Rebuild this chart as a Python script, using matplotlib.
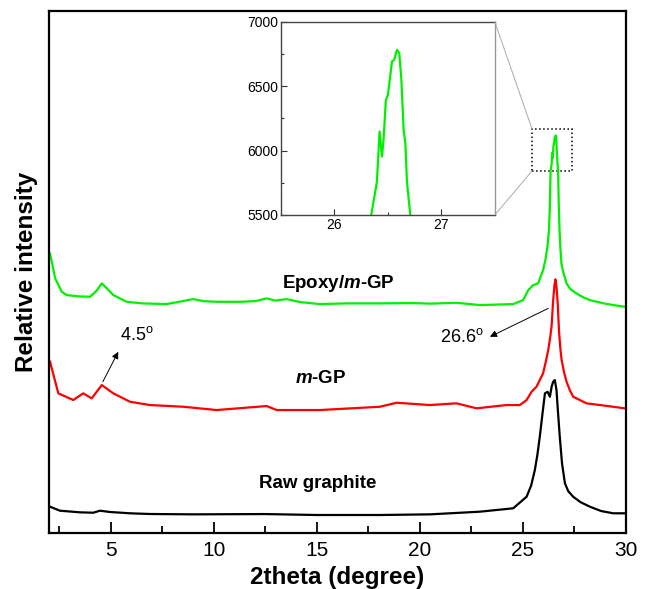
import matplotlib
matplotlib.use("Agg")
import matplotlib.pyplot as plt
from matplotlib.patches import Rectangle, ConnectionPatch
from matplotlib.ticker import MultipleLocator

plt.rcParams["font.family"] = ["Liberation Sans", "DejaVu Sans"]
plt.rcParams["mathtext.fontset"] = "custom"
plt.rcParams["mathtext.rm"] = "Liberation Sans"
plt.rcParams["mathtext.it"] = "Liberation Sans:italic:bold"

# data (2theta, counts); curves are stacked with offsets
green_x = [2.05, 2.3, 2.62, 2.86, 3.5, 3.99, 4.3, 4.56, 4.8, 5.12, 5.77, 6.5, 7.71, 8.5,
           8.99, 9.5, 10.14, 11.27, 12.0, 12.56, 13.0, 13.53, 14.18, 15.15, 16.5, 18.06,
           19.66, 20.5, 21.78, 22.91, 24.53, 25.01, 25.26, 25.5, 25.74, 25.98, 26.10, 26.20,
           26.27, 26.31,
           26.344, 26.397, 26.422, 26.444, 26.459, 26.481, 26.5, 26.538, 26.559, 26.584,
           26.606, 26.625, 26.647, 26.663, 26.678, 26.709, 26.74, 26.78, 26.82, 26.87,
           26.95, 27.05, 27.12, 27.3, 27.6, 27.9, 28.25, 28.8, 29.38, 29.95]
green_y = [2510, 1600, 1119, 1000, 950, 939, 1150, 1424, 1250, 1000, 757, 700, 674, 783,
           855, 780, 757, 757, 780, 880, 800, 855, 747, 674, 700, 699,
           710, 690, 721, 638, 674, 819, 1181, 1362, 1424, 1905, 2300, 2800,
           3400, 4300,
           5500, 5759, 6148, 5954, 6083, 6394, 6433, 6692, 6705, 6782,
           6757, 6562, 6161, 6057, 5759, 5500, 4300, 3300, 2700, 2148,
           1850, 1600, 1424, 1220, 1061, 930, 819, 720, 638, 577]

red_x = [2.05, 2.45, 3.18, 3.66, 4.07, 4.56, 5.12, 5.93, 6.9, 8.52, 10.14, 12.56, 13.05,
         15.15, 18.06, 18.87, 20.49, 21.78, 22.75, 24.21, 24.85, 25.18, 25.42, 25.66, 25.98,
         26.10, 26.23, 26.32, 26.39, 26.47, 26.53, 26.58, 26.63, 26.68, 26.76, 26.82, 26.88,
         27.0, 27.12, 27.28, 27.44, 28.09, 29.38, 29.95]
red_y = [-1415, -2558, -2801, -2558, -2739, -2258, -2558, -2863, -2982, -3044, -3163, -3018,
         -3163, -3163, -3044, -2899, -2982, -2920, -3101, -2982, -2982, -2801, -2501, -2319,
         -1834, -1450, -991, -550, -148, 819, 1350, 1568, 1300, 819, -387, -950, -1353,
         -1800, -2139, -2450, -2681, -2920, -3044, -3101]

black_x = [2.05, 2.53, 3.5, 4.15, 4.47, 4.96, 5.93, 6.9, 9.0, 12.5, 15.0, 18.06, 20.5,
           22.91, 24.53, 25.18, 25.4, 25.58, 25.70, 25.82, 25.95, 26.07, 26.2, 26.31, 26.40,
           26.47, 26.55, 26.63, 26.70, 26.79, 26.90, 27.04, 27.2, 27.44, 27.8, 28.25, 28.8,
           29.38, 29.95]
black_y = [-6664, -6808, -6867, -6881, -6808, -6855, -6902, -6928, -6940, -6930, -6964,
           -6964, -6940, -6844, -6721, -6302, -5900, -5335, -4800, -4130, -3300, -2558,
           -2501, -2682, -2300, -2139, -2077, -2439, -3200, -4130, -5100, -5816, -6100,
           -6302, -6500, -6663, -6820, -6902, -6902]

xticks = [5, 10, 15, 20, 25, 30]
inset_xticks = [26, 27]
inset_yticks = [5500, 6000, 6500, 7000]

fig = plt.figure(figsize=(6.46, 5.89), dpi=100)
ax = fig.add_axes([0.0759, 0.0951, 0.893, 0.886])

ax.plot(black_x, black_y, color="black", lw=1.6)
ax.plot(red_x, red_y, color="#ff0000", lw=1.6)
ax.plot(green_x, green_y, color="#00f000", lw=1.6)

ax.set_xlim(2, 30)
ax.set_ylim(-7615, 11282)
ax.set_xticks(xticks)
ax.xaxis.set_minor_locator(MultipleLocator(2.5))
ax.set_yticks([])
ax.tick_params(axis="x", which="major", direction="in", length=8, width=1.3, labelsize=15, pad=6)
ax.tick_params(axis="x", which="minor", direction="in", length=5, width=1.3)
for s in ax.spines.values():
    s.set_linewidth(1.6)
ax.set_xlabel("2theta (degree)", fontsize=17.5, fontweight="bold", labelpad=4)
ax.set_ylabel("Relative intensity", fontsize=17.5, fontweight="bold", labelpad=8)

ax.text(16.07, 1434, "Epoxy/$m$-GP", fontsize=13.5, fontweight="bold", ha="center", va="center")
ax.text(15.20, -2004, "$m$-GP", fontsize=13.5, fontweight="bold", ha="center", va="center")
ax.text(15.05, -5805, "Raw graphite", fontsize=13.5, fontweight="bold", ha="center", va="center")

ax.annotate("", xy=(5.36, -1053), xytext=(4.61, -2139),
            arrowprops=dict(arrowstyle="-|>", color="black", lw=0.7, mutation_scale=10,
                            shrinkA=0, shrinkB=0))
ax.text(5.45, -448, r"4.5$^{\rm o}$", fontsize=13, ha="left", va="center")
ax.annotate("", xy=(23.40, -510), xytext=(26.23, 518),
            arrowprops=dict(arrowstyle="-|>", color="black", lw=0.7, mutation_scale=10,
                            shrinkA=0, shrinkB=0))
ax.text(20.97, -521, r"26.6$^{\rm o}$", fontsize=13, ha="left", va="center")

# zoom box
ax.add_patch(Rectangle((25.45, 5500), 1.95, 1500, fill=False, ls=":", lw=1.1, ec="black"))

axin = fig.add_axes([0.435, 0.635, 0.331, 0.328])
axin.plot(green_x, green_y, color="#00f000", lw=1.6)
axin.set_xlim(25.5, 27.5)
axin.set_ylim(5500, 7000)
axin.set_xticks(inset_xticks)
axin.set_yticks(inset_yticks)
axin.xaxis.set_minor_locator(MultipleLocator(0.5))
axin.yaxis.set_minor_locator(MultipleLocator(250))
axin.tick_params(which="both", direction="in", labelsize=10, width=0.8, color="#333333", pad=2)
axin.tick_params(which="major", length=4)
axin.tick_params(which="minor", length=2.5)
for s in axin.spines.values():
    s.set_linewidth(1.0)
    s.set_color("#444444")
axin.spines["right"].set_color("#999999")

for ya, yd in [(1, 7000), (0, 5500)]:
    con = ConnectionPatch(xyA=(1, ya), coordsA=axin.transAxes,
                          xyB=(25.45, yd), coordsB=ax.transData,
                          color="#aaaaaa", lw=0.7)
    fig.add_artist(con)

fig.savefig("out.png", dpi=100)
